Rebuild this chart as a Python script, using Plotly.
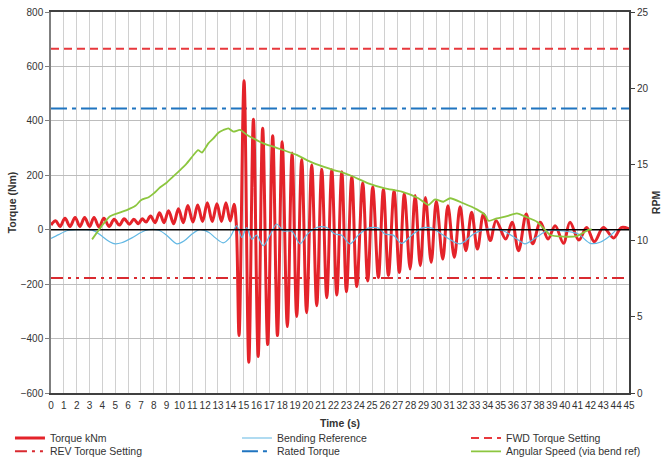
import plotly.graph_objects as go

# Torque signal: extrema (time in s, torque in Nm)
torque_t = [0, 0.36, 0.7, 1.09, 1.48, 1.88, 2.25, 2.62, 3.0, 3.35, 3.74, 4.12, 4.52, 4.92,
            5.32, 5.7, 6.1, 6.45, 6.8, 7.1, 7.4, 7.75, 8.1, 8.45, 8.8, 9.15, 9.55, 9.92,
            10.3, 10.65, 11.05, 11.42, 11.8, 12.17, 12.55, 12.92, 13.27, 13.62, 13.95, 14.25,
            14.42, 14.64, 15.03, 15.4, 15.76, 16.13, 16.48, 16.87, 17.26, 17.63, 18.0, 18.4,
            18.77, 19.13, 19.52, 19.9, 20.3, 20.69, 21.08, 21.47, 21.86, 22.25, 22.64, 23.0,
            23.42, 23.8, 24.27, 24.66, 25.05, 25.49, 25.88, 26.27, 26.71, 27.12, 27.51, 27.96,
            28.35, 28.75, 29.15, 29.6, 30.0, 30.5, 30.9, 31.4, 31.85, 32.3, 32.75, 33.2,
            33.67, 34.2, 34.65, 35.4, 35.9, 36.4, 37.0, 37.5, 38.1, 38.7, 39.25, 39.9, 40.4,
            41.1, 41.7, 42.3, 43.0, 43.8, 44.4, 45.0]
torque_v = [17, 33, 12, 42, 12, 45, 12, 45, 12, 45, 10, 42, 12, 38,
            17, 40, 20, 38, 22, 40, 28, 50, 26, 62, 26, 70, 22, 77,
            26, 89, 28, 91, 30, 99, 30, 95, 30, 99, 32, 94,
            25, -389, 547, -487, 406, -466, 373, -422, 345, -389, 323, -356,
            282, -319, 258, -305, 238, -279, 222, -250, 220, -240, 213, -228,
            195, -209, 172, -188, 157, -176, 148, -168, 142, -157, 132, -144,
            126, -132, 118, -120, 105, -108, 88, -101, 84, -77, 64, -71,
            58, -40, 33, -34, 27, -77, 58, -52, 27, -34, 15, -50, 27,
            -38, 8, -44, 8, -30, 8, 3]

# Bending reference (Nm)
bend_t = [0, 0.6, 1.3, 2.0, 2.8, 3.4, 4.0, 4.6, 5.0, 5.5, 6.3, 7.0, 7.6, 8.4, 9.0, 9.8,
          10.4, 11.0, 11.6, 12.3, 12.8, 13.4, 13.94, 14.46, 14.85, 15.24, 15.63, 16.0,
          16.53, 17.05, 17.57, 18.09, 18.74, 19.39, 19.9, 20.69, 21.47, 22.1, 22.64, 23.28,
          23.93, 24.7, 25.5, 26.0, 26.65, 27.3, 28.09, 28.87, 29.65, 30.4, 31.85, 32.9,
          33.93, 35.2, 36.27, 36.9, 37.8, 38.58, 39.9, 41.06, 41.97, 42.75, 43.53, 43.92]
bend_v = [-32, -18, -3, 0, 0, -5, -25, -45, -52, -48, -30, -10, 0, -2, -20, -52,
          -40, -15, 0, -10, -30, -48, -28, 15, -28, 8, -35, -20,
          -59, -20, 21, -5, -5, -52, -20, 8, 8, -16, -20, -52,
          -20, 6, 6, -16, -20, -50, -20, 6, 6, -16, -52, -16,
          2, -4, -34, -52, -28, -4, -4, -16, -50, -46, -22, -4]

# Angular speed (RPM, right axis)
speed_t = [3.2, 3.9, 4.6, 5.4, 5.9, 6.6, 7.0, 7.6, 8.0, 8.5, 9.0, 9.5, 10.05, 10.57,
           11.08, 11.45, 11.75, 12.0, 12.25, 12.64, 13.03, 13.42, 13.81, 14.2, 14.72,
           15.24, 15.76, 16.53, 17.31, 18.09, 19.13, 20.17, 21.2, 22.0, 22.5, 23.42, 24.7,
           26.0, 27.3, 28.6, 29.38, 29.9, 30.55, 31.07, 32.1, 33.15, 33.8, 34.06, 34.71,
           35.5, 36.27, 37.05, 37.83, 38.47, 38.86, 39.9, 40.94, 41.85, 42.1]
speed_v = [10.08, 10.9, 11.6, 11.85, 12.0, 12.3, 12.65, 12.85, 13.1, 13.5, 13.8, 14.2,
           14.63, 15.07, 15.6, 15.94, 15.78, 16.05, 16.38, 16.7, 17.08, 17.26, 17.37, 17.15,
           17.26, 16.95, 16.7, 16.38, 16.16, 15.94, 15.62, 15.18, 14.85, 14.63, 14.52, 14.24,
           13.76, 13.43, 13.21, 12.78, 12.34, 12.71, 12.55, 12.78, 12.45, 12.05, 11.68, 11.3,
           11.46, 11.6, 11.79, 11.53, 11.24, 10.7, 10.37, 10.26, 10.3, 10.7, 10.74]

# Settings (Nm)
span_t = [0, 45]
fwd_setting = 665
rated_torque = 445
rev_setting = -177

font = "Liberation Sans, Arial, sans-serif"
red = "#E4232A"

fig = go.Figure()

# legend / legend2: first two columns of rows 1 and 2; legend3 / legend4: third column
fig.add_trace(go.Scatter(
    x=span_t, y=[fwd_setting] * 2, mode="lines", name="FWD Torque Setting",
    line=dict(color="#E8383D", width=2, dash="8px,5px"),
    legend="legend3"))
fig.add_trace(go.Scatter(
    x=span_t, y=[rev_setting] * 2, mode="lines", name="REV Torque Setting",
    line=dict(color="#D92A30", width=2, dash="12px,5px,3px,5px,3px,5px"),
    legend="legend2", legendrank=1, legendwidth=182))
fig.add_trace(go.Scatter(
    x=span_t, y=[rated_torque] * 2, mode="lines", name="Rated Torque",
    line=dict(color="#1F74C0", width=2, dash="16px,5px,4px,5px"),
    legend="legend2", legendrank=2, legendwidth=182))

fig.add_trace(go.Scatter(
    x=torque_t, y=torque_v, mode="lines", name="Torque kNm",
    line=dict(color=red, width=3, shape="spline", smoothing=1),
    legend="legend", legendrank=1, legendwidth=182))
fig.add_trace(go.Scatter(
    x=bend_t, y=bend_v, mode="lines", name="Bending Reference",
    line=dict(color="#62B8E4", width=1.2, shape="spline", smoothing=0.8),
    legend="legend", legendrank=2, legendwidth=182))
fig.add_trace(go.Scatter(
    x=speed_t, y=speed_v, mode="lines", name="Angular Speed (via bend ref)",
    line=dict(color="#8CC63F", width=1.8, shape="spline", smoothing=0.6),
    yaxis="y2", legend="legend4"))

# zero line on top
fig.add_trace(go.Scatter(
    x=span_t, y=[0, 0], mode="lines", showlegend=False,
    line=dict(color="#000000", width=1.6), hoverinfo="skip"))

legend_style = dict(orientation="h", xanchor="left", yanchor="top",
                    bgcolor="rgba(0,0,0,0)", font=dict(family=font, size=10.5, color="#333333"),
                    itemwidth=30, tracegroupgap=0)

fig.update_layout(
    width=668, height=467,
    margin=dict(l=51, r=39, t=12, b=74, autoexpand=False),
    paper_bgcolor="white", plot_bgcolor="white",
    font=dict(family=font, size=10, color="#333333"),
    showlegend=True,
    legend=dict(legend_style, x=-0.071, y=-0.08),
    legend2=dict(legend_style, x=-0.071, y=-0.115),
    legend3=dict(legend_style, x=0.718, y=-0.08),
    legend4=dict(legend_style, x=0.718, y=-0.115),
    xaxis=dict(
        range=[0, 45], dtick=1, tick0=0, tickangle=0, automargin=False,
        showgrid=True, gridcolor="#D0D0D0", gridwidth=1,
        showline=True, linecolor="#404040", linewidth=1.5, mirror=True,
        zeroline=False, ticks="", ticklabelstandoff=2,
        tickfont=dict(family=font, size=10, color="#333333"),
        title=dict(text="<b>Time (s)</b>", font=dict(family=font, size=10.5, color="#333333"),
                   standoff=10)),
    yaxis=dict(
        range=[-600, 800], dtick=200, tick0=0, automargin=False,
        showgrid=True, gridcolor="#BDBDBD", gridwidth=1,
        showline=True, linecolor="#7F7F7F", linewidth=1.5,
        zeroline=False, ticks="outside", ticklen=4, tickcolor="#7F7F7F",
        tickfont=dict(family=font, size=10, color="#333333"),
        title=dict(text="<b>Torque (Nm)</b>", font=dict(family=font, size=10.5, color="#333333"),
                   standoff=2)),
    yaxis2=dict(
        range=[0, 25], dtick=5, overlaying="y", side="right", automargin=False,
        showgrid=False, zeroline=False,
        showline=True, linecolor="#404040", linewidth=2,
        ticks="outside", ticklen=4, tickcolor="#404040",
        tickfont=dict(family=font, size=10, color="#333333"),
        title=dict(text="<b>RPM</b>", font=dict(family=font, size=10.5, color="#333333"),
                   standoff=5)),
)

# drop the default page margin so the figure sits at the window's top-left corner
fig.write_html("out.html", config={"displayModeBar": False},
               post_script="document.body.style.margin='0';")
